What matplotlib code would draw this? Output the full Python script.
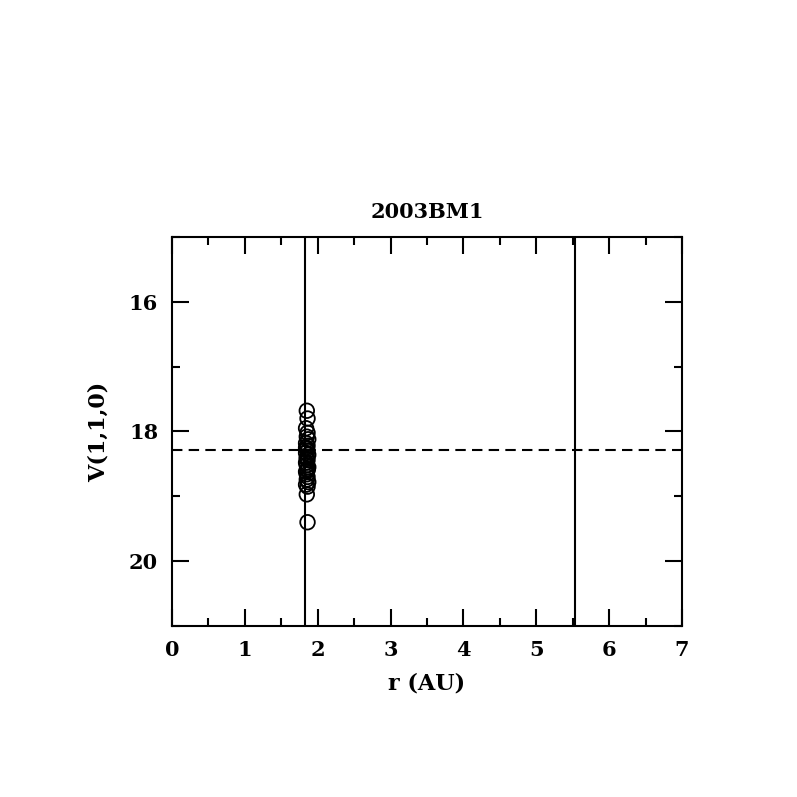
import matplotlib.pyplot as plt
from matplotlib.ticker import MultipleLocator
import numpy as np

# データ
title = '2003BM1'
r_au = np.array([1.85, 1.86, 1.84, 1.86, 1.85, 1.87, 1.84, 1.86, 1.85, 1.86,
                 1.84, 1.87, 1.85, 1.86, 1.84, 1.85, 1.87, 1.86, 1.84, 1.85,
                 1.86, 1.85, 1.87, 1.84, 1.86, 1.85, 1.84, 1.86, 1.85, 1.86])
v110 = np.array([17.68, 17.80, 17.95, 18.02, 18.08, 18.12, 18.18, 18.22, 18.27, 18.30,
                 18.33, 18.36, 18.40, 18.44, 18.48, 18.52, 18.55, 18.58, 18.62, 18.66,
                 18.70, 18.74, 18.78, 18.82, 18.85, 18.42, 18.25, 18.60, 18.97, 19.40])
r_lines = [1.83, 5.53]
v_mean = 18.29

plt.rcParams['font.family'] = ['DejaVu Serif']
plt.rcParams['font.weight'] = 'bold'
plt.rcParams['axes.labelweight'] = 'bold'
plt.rcParams['axes.titleweight'] = 'bold'

fig = plt.figure(figsize=(7.97, 7.97), dpi=100)
ax = fig.add_axes([0.2158, 0.2146, 0.64, 0.488])

ax.scatter(r_au, v110, s=110, facecolors='none', edgecolors='black', linewidths=1.3, zorder=3)
for rl in r_lines:
    ax.axvline(rl, color='black', lw=1.5)
ax.axhline(v_mean, color='black', lw=1.5, ls=(0, (5, 3)))

ax.set_xlim(0, 7)
ax.set_ylim(21, 15)
ax.xaxis.set_major_locator(MultipleLocator(1))
ax.xaxis.set_minor_locator(MultipleLocator(0.5))
ax.yaxis.set_major_locator(MultipleLocator(2))
ax.yaxis.set_minor_locator(MultipleLocator(1))
ax.tick_params(which='both', direction='in', top=True, right=True, width=1.5, labelsize=15)
ax.tick_params(axis='x', pad=10)
ax.tick_params(axis='y', pad=10)
ax.tick_params(which='major', length=12)
ax.tick_params(which='minor', length=6)
for s in ax.spines.values():
    s.set_linewidth(1.5)

ax.set_xlabel('r (AU)', fontsize=16, labelpad=9)
ax.set_ylabel('V(1,1,0)', fontsize=16, labelpad=14)
ax.set_title(title, fontsize=15, pad=14)

plt.savefig('out.png')
plt.close()
